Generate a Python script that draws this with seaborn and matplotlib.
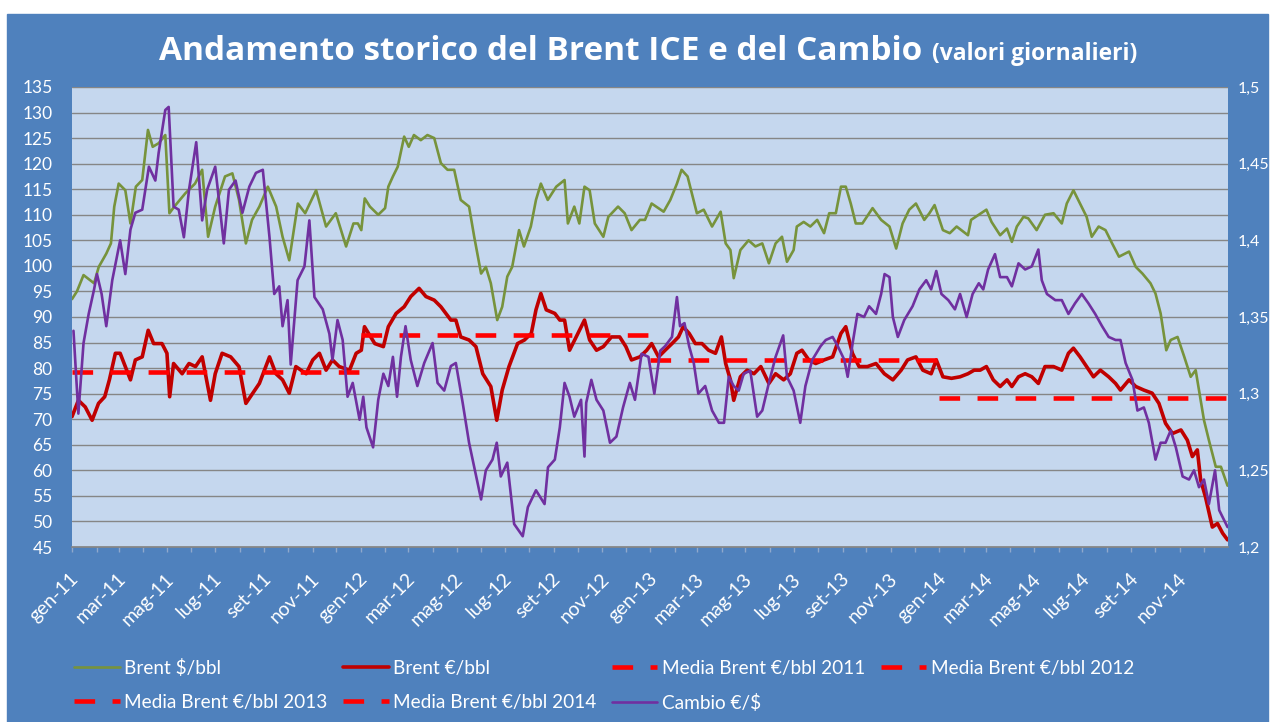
import numpy as np
import pandas as pd
import matplotlib
matplotlib.use('Agg')
import matplotlib.pyplot as plt
import matplotlib.dates as mdates
from matplotlib.patches import Rectangle
from matplotlib.ticker import FuncFormatter
from matplotlib.transforms import ScaledTranslation
import seaborn as sns

# posizione temporale in mesi dall'1 gennaio 2011
brent_usd_m = [0.00, 0.20, 0.47, 0.90, 1.10, 1.44, 1.65, 1.80, 2.00, 2.27, 2.48, 2.70, 2.96, 3.20, 3.40, 3.65,
               3.93, 4.10, 4.30, 4.75, 5.15, 5.45, 5.70, 6.00, 6.40, 6.70, 6.97, 7.25, 7.50, 7.80, 8.15, 8.50,
               8.77, 9.05, 9.40, 9.70, 10.15, 10.57, 10.98, 11.40, 11.70, 11.88, 12.02, 12.16, 12.37, 12.71,
               12.99, 13.13, 13.33, 13.54, 13.82, 14.02, 14.23, 14.51, 14.78, 15.06, 15.34, 15.62, 15.90,
               16.17, 16.51, 16.72, 17.00, 17.20, 17.41, 17.68, 17.89, 18.10, 18.30, 18.58, 18.78, 19.06,
               19.27, 19.47, 19.75, 20.10, 20.45, 20.59, 20.86, 21.07, 21.28, 21.49, 21.70, 22.05, 22.26,
               22.67, 22.95, 23.23, 23.57, 23.78, 24.05, 24.33, 24.54, 24.81, 25.09, 25.30, 25.57, 25.78,
               25.99, 26.27, 26.61, 26.96, 27.17, 27.37, 27.51, 27.79, 28.13, 28.41, 28.69, 28.96, 29.24,
               29.51, 29.72, 30.00, 30.13, 30.41, 30.68, 30.96, 31.24, 31.45, 31.72, 31.93, 32.13, 32.34,
               32.55, 32.83, 33.25, 33.60, 33.94, 34.22, 34.49, 34.77, 35.05, 35.39, 35.60, 35.81, 36.15,
               36.43, 36.71, 36.98, 37.19, 37.33, 37.68, 38.02, 38.23, 38.58, 38.86, 39.06, 39.27, 39.55,
               39.75, 40.10, 40.44, 40.79, 41.13, 41.34, 41.62, 41.90, 42.17, 42.38, 42.66, 42.94, 43.21,
               43.49, 43.90, 44.18, 44.46, 44.80, 45.01, 45.22, 45.45, 45.63, 45.91, 46.19, 46.46, 46.67,
               46.88, 47.02, 47.22, 47.50, 47.71, 47.98]
brent_usd = [93.5, 95.0, 98.2, 96.6, 99.8, 102.4, 104.4, 111.6, 116.1, 114.8, 108.3, 115.5, 116.8, 126.6, 123.3, 124.0,
             125.6, 110.3, 111.6, 114.2, 116.1, 118.8, 105.7, 111.6, 117.5, 118.1, 112.9, 104.4, 109.0, 111.6, 115.5, 111.6,
             105.7, 101.1, 112.2, 110.3, 114.8, 107.7, 110.3, 103.8, 108.3, 108.3, 107.0, 113.2, 111.6, 110.0,
             111.3, 115.5, 117.5, 119.4, 125.3, 123.3, 125.6, 124.6, 125.6, 125.0, 120.1, 118.8, 118.8,
             112.9, 111.6, 105.7, 98.5, 99.8, 96.6, 89.4, 92.0, 97.9, 99.8, 107.0, 103.8, 107.7,
             112.9, 116.1, 112.9, 115.5, 116.8, 108.3, 111.6, 108.3, 115.5, 114.8, 108.3, 105.7, 109.6,
             111.6, 110.3, 107.0, 109.0, 109.0, 112.2, 111.3, 110.6, 112.9, 116.1, 118.8, 117.5, 113.9,
             110.3, 111.0, 107.7, 110.6, 104.4, 103.1, 97.6, 103.1, 105.0, 103.8, 104.4, 100.5, 104.4,
             105.7, 100.8, 103.1, 107.7, 108.6, 107.7, 109.0, 106.4, 110.3, 110.3, 115.5, 115.5, 112.2,
             108.3, 108.3, 111.3, 109.0, 107.7, 103.4, 108.3, 111.0, 112.2, 109.0, 110.3, 111.9, 107.0,
             106.4, 107.7, 106.7, 106.0, 109.0, 110.0, 111.0, 108.6, 106.0, 107.3, 104.7, 107.7, 109.6,
             109.3, 107.0, 110.0, 110.3, 108.3, 112.2, 114.8, 112.2, 109.6, 105.7, 107.7, 107.0, 104.4,
             101.8, 102.8, 99.8, 98.5, 96.6, 94.6, 90.7, 83.5, 85.5, 86.1, 82.2, 78.3, 79.6,
             73.7, 69.8, 65.9, 60.7, 60.7, 57.0]

brent_eur_m = [0.00, 0.26, 0.54, 0.82, 1.09, 1.37, 1.58, 1.85, 2.06, 2.27, 2.48, 2.68, 2.96, 3.21, 3.44, 3.79,
               4.00, 4.11, 4.27, 4.62, 4.90, 5.17, 5.45, 5.80, 6.00, 6.28, 6.63, 6.97, 7.25, 7.53, 7.80, 8.22,
               8.49, 8.77, 9.05, 9.32, 9.74, 10.01, 10.29, 10.57, 10.84, 11.12, 11.54, 11.81, 12.02, 12.15,
               12.57, 12.92, 13.13, 13.47, 13.82, 14.10, 14.44, 14.72, 15.06, 15.34, 15.76, 15.97, 16.17,
               16.51, 16.79, 17.07, 17.41, 17.66, 17.89, 18.17, 18.52, 18.80, 19.08, 19.27, 19.47, 19.69,
               20.04, 20.25, 20.45, 20.66, 20.94, 21.28, 21.49, 21.77, 22.05, 22.39, 22.74, 23.00, 23.23,
               23.57, 23.85, 24.05, 24.33, 24.60, 24.88, 25.16, 25.37, 25.64, 25.92, 26.20, 26.47, 26.75,
               26.99, 27.17, 27.37, 27.51, 27.79, 28.07, 28.35, 28.63, 28.96, 29.24, 29.58, 29.86, 30.13,
               30.34, 30.62, 30.90, 31.24, 31.59, 31.93, 32.13, 32.41, 32.69, 33.04, 33.39, 33.73, 34.08,
               34.43, 34.70, 35.05, 35.33, 35.67, 35.88, 36.15, 36.50, 36.85, 37.19, 37.47, 37.74, 38.02,
               38.30, 38.58, 38.86, 39.06, 39.34, 39.62, 39.90, 40.17, 40.44, 40.79, 41.13, 41.41, 41.62,
               41.90, 42.17, 42.45, 42.73, 43.07, 43.35, 43.55, 43.90, 44.18, 44.52, 44.87, 45.15, 45.42,
               45.70, 46.05, 46.32, 46.53, 46.74, 46.88, 47.08, 47.36, 47.57, 47.78, 47.98]
brent_eur = [70.5, 73.7, 72.4, 69.8, 73.1, 74.4, 77.7, 82.9, 82.9, 80.3, 77.7, 81.6, 82.2, 87.4, 84.8, 84.8,
             82.9, 74.4, 80.9, 78.9, 80.9, 80.3, 82.2, 73.7, 78.9, 82.9, 82.2, 80.3, 73.1, 75.1, 77.0, 82.2,
             78.9, 77.7, 75.1, 80.3, 78.9, 81.6, 82.9, 79.6, 81.6, 80.3, 79.6, 82.9, 83.5, 88.1,
             84.8, 84.2, 88.1, 90.7, 92.0, 94.0, 95.6, 94.0, 93.3, 92.0, 89.4, 89.4, 86.1,
             85.5, 84.2, 78.9, 76.4, 69.8, 75.7, 80.3, 84.8, 85.5, 86.8, 91.4, 94.6, 91.4,
             90.7, 89.4, 89.4, 83.5, 86.1, 89.4, 85.5, 83.5, 84.2, 86.1, 86.1, 84.2, 81.6,
             82.2, 83.5, 84.8, 82.2, 83.5, 84.8, 86.1, 88.1, 86.8, 84.8, 84.8, 83.5, 82.9,
             86.1, 80.9, 77.7, 73.7, 78.3, 79.6, 78.9, 80.3, 77.0, 78.9, 77.7, 78.9, 82.9,
             83.5, 81.6, 80.9, 81.6, 82.2, 86.8, 88.1, 82.9, 80.3, 80.3, 80.9, 78.9, 77.7,
             79.6, 81.6, 82.2, 79.6, 78.9, 81.6, 78.3, 78.0, 78.3, 78.9, 79.6, 79.6, 80.3,
             77.7, 76.4, 77.7, 76.4, 78.3, 78.9, 78.3, 77.0, 80.3, 80.3, 79.6, 82.9, 83.9,
             82.2, 80.3, 78.3, 79.6, 78.3, 77.0, 75.7, 77.7, 76.4, 75.7, 75.1, 73.1, 69.2,
             67.2, 67.9, 65.9, 62.7, 64.0, 58.1, 54.8, 48.9, 49.6, 47.7, 46.4]

cambio_m = [0.06, 0.26, 0.47, 0.68, 0.90, 1.02, 1.23, 1.44, 1.71, 2.06, 2.27, 2.48, 2.68, 2.96, 3.24, 3.51,
            3.65, 3.93, 4.07, 4.27, 4.48, 4.69, 4.90, 5.20, 5.45, 5.66, 6.00, 6.35, 6.56, 6.83, 7.11, 7.39,
            7.66, 7.94, 8.22, 8.42, 8.63, 8.77, 8.98, 9.11, 9.39, 9.67, 9.87, 10.08, 10.43, 10.71, 10.84,
            11.05, 11.26, 11.46, 11.67, 11.95, 12.10, 12.23, 12.50, 12.71, 12.92, 13.13, 13.33, 13.51,
            13.68, 13.88, 14.10, 14.37, 14.65, 14.99, 15.20, 15.48, 15.76, 15.97, 16.25, 16.51, 16.72,
            17.00, 17.20, 17.48, 17.66, 17.83, 18.10, 18.38, 18.73, 18.94, 19.27, 19.62, 19.76, 20.04,
            20.25, 20.45, 20.66, 20.86, 21.14, 21.28, 21.35, 21.56, 21.77, 22.05, 22.33, 22.60, 22.88,
            23.16, 23.37, 23.64, 23.92, 24.16, 24.40, 24.60, 24.88, 25.09, 25.23, 25.43, 25.64, 25.85,
            26.05, 26.33, 26.61, 26.89, 27.10, 27.30, 27.51, 27.72, 27.93, 28.20, 28.48, 28.69, 28.96,
            29.24, 29.56, 29.72, 30.00, 30.27, 30.48, 30.76, 31.10, 31.31, 31.59, 31.80, 32.07, 32.21,
            32.42, 32.62, 32.90, 33.11, 33.39, 33.60, 33.74, 33.94, 34.08, 34.29, 34.56, 34.91, 35.19,
            35.47, 35.67, 35.88, 36.09, 36.37, 36.64, 36.85, 37.13, 37.40, 37.68, 37.88, 38.09, 38.37,
            38.58, 38.86, 39.06, 39.34, 39.62, 39.90, 40.17, 40.31, 40.52, 40.86, 41.13, 41.41, 41.69,
            41.97, 42.24, 42.52, 42.80, 43.07, 43.35, 43.55, 43.76, 44.04, 44.25, 44.52, 44.73, 45.01,
            45.22, 45.42, 45.63, 45.84, 46.12, 46.39, 46.60, 46.81, 47.02, 47.22, 47.47, 47.64, 47.98]
cambio = [1.341, 1.287, 1.333, 1.352, 1.368, 1.378, 1.365, 1.344, 1.374, 1.400, 1.378, 1.407, 1.418, 1.420, 1.448, 1.439,
          1.457, 1.485, 1.487, 1.422, 1.420, 1.402, 1.433, 1.464, 1.413, 1.433, 1.448, 1.398, 1.433, 1.439, 1.418, 1.435,
          1.444, 1.446, 1.402, 1.365, 1.370, 1.344, 1.361, 1.319, 1.374, 1.383, 1.413, 1.363, 1.355, 1.339, 1.322,
          1.348, 1.335, 1.298, 1.307, 1.283, 1.298, 1.278, 1.265, 1.296, 1.313, 1.305, 1.324, 1.298,
          1.324, 1.344, 1.322, 1.305, 1.320, 1.333, 1.307, 1.302, 1.318, 1.320, 1.294, 1.268, 1.252,
          1.231, 1.250, 1.257, 1.268, 1.246, 1.255, 1.215, 1.207, 1.226, 1.237, 1.228, 1.252, 1.257,
          1.278, 1.307, 1.298, 1.285, 1.296, 1.259, 1.294, 1.309, 1.296, 1.289, 1.268, 1.272, 1.291,
          1.307, 1.296, 1.326, 1.324, 1.300, 1.328, 1.331, 1.337, 1.363, 1.344, 1.346, 1.331, 1.320,
          1.300, 1.305, 1.289, 1.281, 1.281, 1.311, 1.305, 1.302, 1.313, 1.315, 1.285, 1.289, 1.307,
          1.324, 1.338, 1.311, 1.302, 1.281, 1.305, 1.322, 1.331, 1.335, 1.337, 1.331, 1.322, 1.311,
          1.333, 1.352, 1.350, 1.357, 1.352, 1.365, 1.378, 1.376, 1.350, 1.337, 1.348, 1.357, 1.368,
          1.374, 1.368, 1.380, 1.365, 1.361, 1.355, 1.365, 1.350, 1.365, 1.372, 1.368, 1.381, 1.391,
          1.376, 1.376, 1.370, 1.385, 1.381, 1.383, 1.394, 1.374, 1.365, 1.361, 1.361, 1.352, 1.359,
          1.365, 1.359, 1.352, 1.344, 1.337, 1.335, 1.335, 1.320, 1.309, 1.289, 1.291, 1.281, 1.257,
          1.268, 1.268, 1.276, 1.265, 1.246, 1.244, 1.250, 1.239, 1.244, 1.228, 1.250, 1.224, 1.213]

media_anni = [2011, 2012, 2013, 2014]
media_valori = [79.3, 86.4, 81.6, 74.1]

mesi = ['gen', 'feb', 'mar', 'apr', 'mag', 'giu', 'lug', 'ago', 'set', 'ott', 'nov', 'dic']
left_ticks = list(range(45, 136, 5))
right_ticks = [1.2, 1.25, 1.3, 1.35, 1.4, 1.45, 1.5]
right_labels = ['1,2', '1,25', '1,3', '1,35', '1,4', '1,45', '1,5']

BLUE_BG = '#4F81BD'
PLOT_BG = '#C5D7EE'
GREEN = '#77933C'
DARK_RED = '#C00000'
RED = '#FF0000'
PURPLE = '#7030A0'


def months_to_dates(m):
    m = np.asarray(m, dtype=float)
    whole = np.floor(m).astype(int)
    start = pd.to_datetime([f"{2011 + w // 12}-{w % 12 + 1:02d}-01" for w in whole])
    nxt = start + pd.offsets.MonthBegin(1)
    return start + (nxt - start) * (m - whole)


df_usd = pd.DataFrame({'data': months_to_dates(brent_usd_m), 'valore': brent_usd})
df_eur = pd.DataFrame({'data': months_to_dates(brent_eur_m), 'valore': brent_eur})
df_cambio = pd.DataFrame({'data': months_to_dates(cambio_m), 'valore': cambio})

sns.set_theme(style='white')
plt.rcParams['font.family'] = ['Lato', 'DejaVu Sans']

W, H = 1274, 722
fig = plt.figure(figsize=(W / 100, H / 100), dpi=100, facecolor='white')
fig.patches.append(Rectangle((7 / W, 0), (1268 - 7) / W, (H - 14) / H,
                             transform=fig.transFigure, color=BLUE_BG, zorder=-10))

ax = fig.add_axes([72 / W, 1 - 547 / H, (1228 - 72) / W, (547 - 87) / H])
ax.set_facecolor(PLOT_BG)
ax2 = ax.twinx()

sns.lineplot(data=df_usd, x='data', y='valore', ax=ax, color=GREEN, lw=1.9,
             estimator=None, label='Brent $/bbl', legend=False)
sns.lineplot(data=df_eur, x='data', y='valore', ax=ax, color=DARK_RED, lw=2.6,
             estimator=None, label='Brent €/bbl', legend=False)
for anno, val in zip(media_anni, media_valori):
    d = pd.DataFrame({'data': pd.to_datetime([f'{anno}-01-01', f'{anno}-12-31']), 'valore': [val, val]})
    sns.lineplot(data=d, x='data', y='valore', ax=ax, color=RED, lw=3.3,
                 label=f'Media Brent €/bbl {anno}', legend=False)
for ln in ax.get_lines()[2:]:
    ln.set_dashes((4.5, 3.8))
sns.lineplot(data=df_cambio, x='data', y='valore', ax=ax2, color=PURPLE, lw=1.9,
             estimator=None, label='Cambio €/$', legend=False)

ax.set_ylim(45, 135)
ax.set_yticks(left_ticks)
ax2.set_ylim(1.2, 1.5)
ax2.set_yticks(right_ticks)
ax2.set_yticklabels(right_labels)
ax.set_xlim(pd.Timestamp('2011-01-01'), pd.Timestamp('2014-12-31 23:00'))

ax.yaxis.grid(True, color='#868686', lw=1)
ax.set_axisbelow(True)
for a in (ax, ax2):
    a.set_xlabel('')
    a.set_ylabel('')
    for s in a.spines.values():
        s.set_visible(False)
ax.spines['bottom'].set_visible(True)
ax.spines['bottom'].set_color('#868686')

ax.xaxis.set_major_locator(mdates.MonthLocator(bymonth=[1, 3, 5, 7, 9, 11]))
ax.xaxis.set_minor_locator(mdates.MonthLocator())
ax.xaxis.set_major_formatter(FuncFormatter(
    lambda x, pos: f"{mesi[mdates.num2date(x).month - 1]}-{mdates.num2date(x).year % 100:02d}"))
ax.tick_params(axis='x', which='both', bottom=True, colors='#8FA8CC', length=3.5, width=1)
ax.tick_params(axis='x', which='major', labelcolor='white', labelsize=14, pad=17.5)
ax.tick_params(axis='y', length=0, labelcolor='white', labelsize=12.5, pad=14)
ax2.tick_params(axis='y', length=0, labelcolor='white', labelsize=11.5, pad=7)

shift = ScaledTranslation(4 / 100, 0, fig.dpi_scale_trans)
for lab in ax.get_xticklabels():
    lab.set_rotation(45)
    lab.set_ha('right')
    lab.set_va('center')
    lab.set_rotation_mode('anchor')
    lab.set_transform(lab.get_transform() + shift)

fig.text(922 / W, 1 - 60 / H, 'Andamento storico del Brent ICE e del Cambio', ha='right', va='baseline',
         color='white', fontsize=24, fontweight='bold', family=['Open Sans', 'DejaVu Sans'])
fig.text(932 / W, 1 - 60 / H, '(valori giornalieri)', ha='left', va='baseline',
         color='white', fontsize=16.5, fontweight='bold', family=['Open Sans', 'DejaVu Sans'])

h1 = ax.get_lines()
h2 = ax2.get_lines()
handles = [h1[0], h1[4], h1[1], h1[5], h1[2], h2[0], h1[3]]
labels = [h.get_label() for h in handles]
fig.legend(handles, labels, ncol=4, loc='upper left', bbox_to_anchor=(74 / W, 1 - 659 / H),
           frameon=False, fontsize=13.7, labelcolor='white', handlelength=2.4, handletextpad=0.25,
           columnspacing=0.8, labelspacing=0.88, borderpad=0, borderaxespad=0)

fig.savefig('out.png', dpi=100, facecolor='white')
